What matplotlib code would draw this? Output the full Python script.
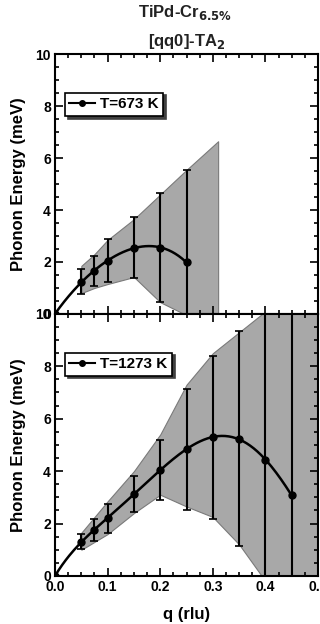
import matplotlib
matplotlib.use("Agg")
import matplotlib.pyplot as plt
from matplotlib.ticker import MultipleLocator
import numpy as np

plt.rcParams["font.family"] = ["Liberation Sans", "DejaVu Sans"]
plt.rcParams["font.weight"] = "bold"

# T = 673 K
q_673 = [0.0, 0.05, 0.075, 0.1, 0.15, 0.2, 0.25]
e_673 = [0.0, 1.24, 1.65, 2.05, 2.55, 2.55, 1.98]
err_673 = [0.0, 0.48, 0.57, 0.82, 1.17, 2.1, 3.56]
band_q_673 = [0.05, 0.075, 0.1, 0.15, 0.2, 0.25, 0.31]
band_hi_673 = [1.85, 2.3, 2.85, 3.65, 4.6, 5.55, 6.65]
band_lo_673 = [0.8, 1.0, 1.15, 1.42, 0.45, -0.05, -0.05]

# T = 1273 K
q_1273 = [0.0, 0.05, 0.075, 0.1, 0.15, 0.2, 0.25, 0.3, 0.35, 0.4, 0.45]
e_1273 = [0.0, 1.31, 1.76, 2.2, 3.13, 4.05, 4.83, 5.29, 5.23, 4.43, 3.07]
err_1273 = [0.0, 0.3, 0.42, 0.56, 0.7, 1.15, 2.3, 3.1, 4.1, 6.0, 7.5]
band_q_1273 = [0.05, 0.075, 0.1, 0.15, 0.2, 0.25, 0.3, 0.35, 0.4, 0.45, 0.5]
band_hi_1273 = [1.65, 2.25, 2.85, 4.0, 5.4, 7.3, 8.5, 9.3, 10.1, 11.0, 12.0]
band_lo_1273 = [1.0, 1.3, 1.6, 2.4, 3.1, 2.65, 2.25, 1.2, -0.2, -1.2, -2.2]

panels = [
    ("T=673 K", q_673, e_673, err_673, band_q_673, band_hi_673, band_lo_673, 4),
    ("T=1273 K", q_1273, e_1273, err_1273, band_q_1273, band_hi_1273, band_lo_1273, 5),
]

fig = plt.figure(figsize=(3.2, 6.24), dpi=100)
rects = [[0.172, 0.497, 0.822, 0.416], [0.172, 0.077, 0.822, 0.420]]

for (label, q, e, err, bq, bhi, blo, deg), rect in zip(panels, rects):
    ax = fig.add_axes(rect)
    ax.fill_between(bq, blo, bhi, facecolor="#a8a8a8", edgecolor="#7a7a7a", lw=0.8, zorder=1)
    # smooth guide curve through the points
    coef = np.polyfit(q, e, deg)
    qq = np.linspace(0, q[-1], 200)
    ax.plot(qq, np.polyval(coef, qq), color="black", lw=1.8, zorder=3)
    ax.errorbar(q[1:], e[1:], yerr=err[1:], fmt="none", ecolor="black",
                elinewidth=1.5, capsize=3, capthick=1.2, zorder=4)
    ax.plot(q, e, "o", color="black", ms=5, zorder=5)
    # legend handle
    ax.plot([], [], "-o", color="black", lw=1.5, ms=4, label=label)
    leg = ax.legend(loc="upper left", bbox_to_anchor=(0.02, 0.87), frameon=True,
                    fancybox=False, shadow={"color": "0.25", "alpha": 1.0},
                    handlelength=1.7, handletextpad=0.3, borderpad=0.3,
                    borderaxespad=0.3,
                    prop={"weight": "bold", "size": 11})
    leg.get_frame().set_edgecolor("black")
    leg.get_frame().set_linewidth(1.2)

    ax.set_xlim(0, 0.5)
    ax.set_ylim(0, 10)
    ax.xaxis.set_major_locator(MultipleLocator(0.1))
    ax.xaxis.set_minor_locator(MultipleLocator(0.025))
    ax.yaxis.set_major_locator(MultipleLocator(2))
    ax.yaxis.set_minor_locator(MultipleLocator(0.5))
    ax.tick_params(which="both", direction="in", top=True, right=True, width=1.2)
    ax.tick_params(which="major", length=6, labelsize=10, pad=3)
    ax.tick_params(which="minor", length=3)
    for s in ax.spines.values():
        s.set_linewidth(1.5)
    ax.set_ylabel("Phonon Energy (meV)", fontsize=12, fontweight="bold", labelpad=7)
    for t in ax.get_xticklabels() + ax.get_yticklabels():
        t.set_fontweight("bold")
    if label == "T=673 K":
        ax.tick_params(axis="x", labelbottom=False)
    else:
        ax.set_xlabel("q (rlu)", fontsize=12, fontweight="bold", labelpad=9)

fig.text(0.578, 1 - 17 / 624, "TiPd-Cr$_{\\mathbf{6.5\\%}}$", ha="center", va="baseline",
         fontsize=12, fontweight="bold", color="#222222")
fig.text(0.583, 1 - 46 / 624, "[qq0]-TA$_{\\mathbf{2}}$", ha="center", va="baseline",
         fontsize=12, fontweight="bold", color="#222222")

fig.savefig("out.png", dpi=100)
